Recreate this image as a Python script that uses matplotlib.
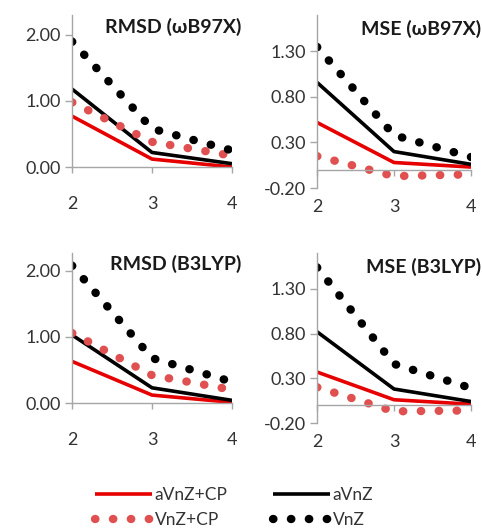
import matplotlib.pyplot as plt
import matplotlib.ticker as mticker
from matplotlib.lines import Line2D

# dados
zeta = [2, 3, 4]

rmsd_wb97x = {
    "aVnZ+CP": [0.77, 0.12, 0.00],
    "aVnZ": [1.18, 0.22, 0.05],
    "VnZ+CP": [0.98, 0.38, 0.17],
    "VnZ": [1.90, 0.58, 0.25],
}
mse_wb97x = {
    "aVnZ+CP": [0.52, 0.08, 0.03],
    "aVnZ": [0.96, 0.20, 0.06],
    "VnZ+CP": [0.15, -0.07, -0.05],
    "VnZ": [1.35, 0.38, 0.14],
}
rmsd_b3lyp = {
    "aVnZ+CP": [0.63, 0.12, 0.01],
    "aVnZ": [1.03, 0.23, 0.04],
    "VnZ+CP": [1.06, 0.42, 0.20],
    "VnZ": [2.08, 0.68, 0.32],
}
mse_b3lyp = {
    "aVnZ+CP": [0.37, 0.06, 0.01],
    "aVnZ": [0.82, 0.18, 0.04],
    "VnZ+CP": [0.20, -0.07, -0.06],
    "VnZ": [1.54, 0.46, 0.19],
}

rmsd_ticks = [0.0, 1.0, 2.0]
mse_ticks = [-0.2, 0.3, 0.8, 1.3]

RED = "#E60000"
RED_DOT = "#E05050"
GRAY = "#A6A6A6"
TXT = "#333333"
FONT = ["Lato", "DejaVu Sans"]

plt.rcParams["font.family"] = FONT

estilos = {
    "aVnZ+CP": dict(color=RED, lw=2.6, solid_capstyle="butt"),
    "aVnZ": dict(color="black", lw=2.6, solid_capstyle="butt"),
    "VnZ+CP": dict(color=RED_DOT, lw=6, linestyle=(0, (0.05, 2.1)), dash_capstyle="round"),
    "VnZ": dict(color="black", lw=6, linestyle=(0, (0.05, 2.1)), dash_capstyle="round"),
}
ordem = ["aVnZ+CP", "aVnZ", "VnZ+CP", "VnZ"]

W, H = 482, 529
fig = plt.figure(figsize=(W / 100, H / 100), dpi=100)


def eixo(l, r, t, b):
    return fig.add_axes([l / W, 1 - b / H, (r - l) / W, (b - t) / H])


def desenha(ax, dados, ylim, ticks, titulo, tx, ty):
    for nome in ordem:
        ax.plot(zeta, dados[nome], **estilos[nome])
    ax.set_xlim(2, 4)
    ax.set_ylim(*ylim)
    ax.set_xticks(zeta)
    ax.set_yticks(ticks)
    ax.yaxis.set_major_formatter(mticker.FormatStrFormatter("%.2f"))
    for s in ["top", "right"]:
        ax.spines[s].set_visible(False)
    ax.spines["bottom"].set_position(("data", 0))
    for s in ["left", "bottom"]:
        ax.spines[s].set_color(GRAY)
        ax.spines[s].set_linewidth(1.0)
    ax.tick_params(axis="y", direction="out", length=5, width=1, color=GRAY,
                   labelsize=13, labelcolor=TXT, pad=3)
    ax.tick_params(axis="x", direction="out", length=4, width=1, color=GRAY,
                   labelsize=13, labelcolor=TXT, pad=17)
    fig.text(tx / W, 1 - ty / H, titulo, ha="right", va="center",
             fontsize=14, fontweight="bold", color="#1a1a1a", family=FONT)


ax1 = eixo(72, 232, 15, 167)
desenha(ax1, rmsd_wb97x, (0, 2.3), rmsd_ticks, "RMSD (\u03c9B97X)", 241, 27)
ax2 = eixo(317, 471, 15, 188)
desenha(ax2, mse_wb97x, (-0.2, 1.7), mse_ticks, "MSE (\u03c9B97X)", 481, 29)
ax3 = eixo(72, 232, 253, 403)
desenha(ax3, rmsd_b3lyp, (0, 2.27), rmsd_ticks, "RMSD (B3LYP)", 241, 264)
ax4 = eixo(317, 471, 253, 423)
desenha(ax4, mse_b3lyp, (-0.2, 1.7), mse_ticks, "MSE (B3LYP)", 481, 267)

handles = [Line2D([], [], **estilos[n]) for n in ["aVnZ+CP", "VnZ+CP", "aVnZ", "VnZ"]]
labels = ["aVnZ+CP", "VnZ+CP", "aVnZ", "VnZ"]
leg = fig.legend(handles, labels, ncol=2, frameon=False, loc="upper left",
                 bbox_to_anchor=(88 / W, 1 - 480 / H), fontsize=12.5,
                 handlelength=3.3, handletextpad=0.15, columnspacing=2.6,
                 labelspacing=0.55, borderaxespad=0)
for t in leg.get_texts():
    t.set_color(TXT)

fig.savefig("out.png", dpi=100)
